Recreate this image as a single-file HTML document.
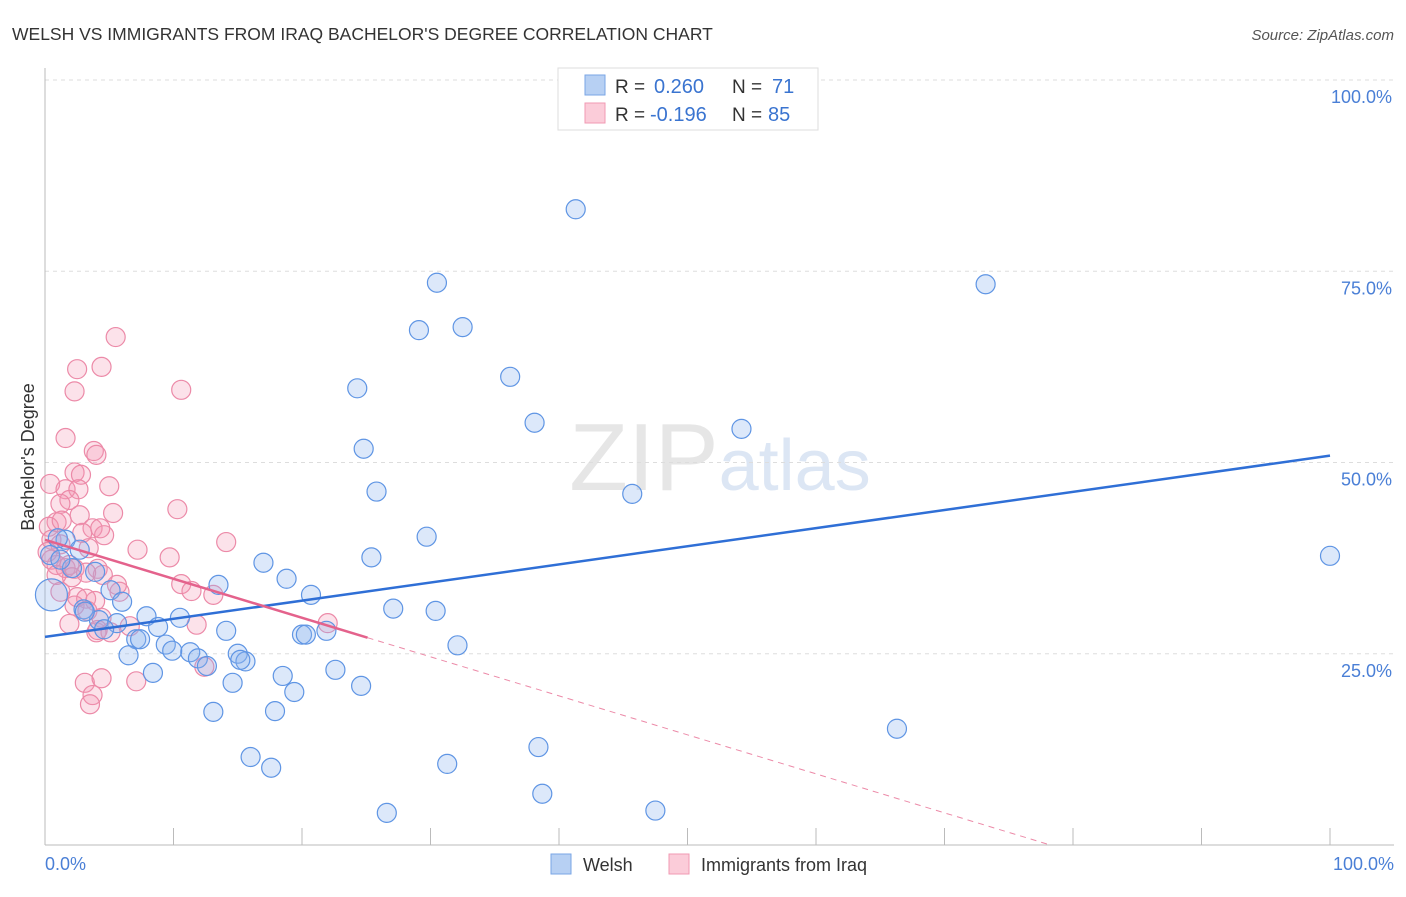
<!DOCTYPE html>
<html><head><meta charset="utf-8"><style>
body{margin:0;background:#fff;font-family:"Liberation Sans",sans-serif;}
svg text{font-family:"Liberation Sans",sans-serif;}
</style></head><body>
<svg id="chart" width="1406" height="892" xmlns="http://www.w3.org/2000/svg">
<text x="12" y="40" font-size="17.5" fill="#333">WELSH VS IMMIGRANTS FROM IRAQ BACHELOR'S DEGREE CORRELATION CHART</text>
<text x="1394" y="40" font-size="15" fill="#555" text-anchor="end" font-style="italic">Source: ZipAtlas.com</text>
<text x="720" y="490" font-size="96" fill="#e6e6e6" text-anchor="middle" font-family="Liberation Serif">ZIP<tspan fill="#dce6f4" font-family="Liberation Sans" font-size="72">atlas</tspan></text>
<g id="grid"></g>
<line x1="45" y1="68" x2="45" y2="845" stroke="#bbb"/>
<line x1="45" y1="845" x2="1394" y2="845" stroke="#bbb"/>
<text transform="translate(34,457) rotate(-90)" font-size="18" fill="#333" text-anchor="middle">Bachelor's Degree</text>
<text x="45" y="870" font-size="18" fill="#4a7fd6">0.0%</text>
<text x="1394" y="870" font-size="18" fill="#4a7fd6" text-anchor="end">100.0%</text>
<g id="pts"></g>
<g id="lines"></g>
<g>
<rect x="558" y="68" width="260" height="62" fill="#fff" stroke="#ddd"/>
<rect x="585" y="75" width="20" height="20" fill="#b7d0f3" stroke="#7aa6e6"/>
<rect x="585" y="103" width="20" height="20" fill="#fbccd9" stroke="#f09ab3"/>
<text x="615" y="93" font-size="19" fill="#333">R =</text>
<text x="654" y="93" font-size="20" fill="#3a74d0">0.260</text>
<text x="732" y="93" font-size="19" fill="#333">N =</text>
<text x="772" y="93" font-size="20" fill="#3a74d0">71</text>
<text x="615" y="121" font-size="19" fill="#333">R =</text>
<text x="650" y="121" font-size="20" fill="#3a74d0">-0.196</text>
<text x="732" y="121" font-size="19" fill="#333">N =</text>
<text x="768" y="121" font-size="20" fill="#3a74d0">85</text>
</g>
<g>
<rect x="551" y="854" width="20" height="20" fill="#b7d0f3" stroke="#7aa6e6"/>
<text x="583" y="871" font-size="18" fill="#333">Welsh</text>
<rect x="669" y="854" width="20" height="20" fill="#fbccd9" stroke="#f09ab3"/>
<text x="701" y="871" font-size="18" fill="#333">Immigrants from Iraq</text>
</g>
</svg>
<script>
const yTicks=[25,50,75,100];
const yTickLabels=["25.0%","50.0%","75.0%","100.0%"];
const xTicks=[0,10,20,30,40,50,60,70,80,90,100];
const blueX=[41.3,30.5,73.2,29.1,32.5,36.2,24.3,38.1,54.2,24.8,25.8,45.7,29.7,25.4,100,17.0,18.8,13.5,20.7,5.1,6.0,27.1,30.4,7.9,10.5,4.2,5.6,4.6,8.8,14.1,20.0,20.3,21.9,7.1,7.4,9.4,11.3,9.9,6.5,11.9,15.0,15.6,32.1,15.2,12.6,22.6,8.4,18.5,14.6,19.4,24.6,13.1,17.9,66.3,38.4,16.0,17.6,31.3,38.7,26.6,47.5,0.5,1.6,1.0,2.1,3.9,3.0,3.1,0.4,1.2,2.7];
const blueY=[83.1,73.5,73.3,67.3,67.7,61.2,59.7,55.2,54.4,51.8,46.2,45.9,40.3,37.6,37.8,36.9,34.8,34.0,32.7,33.3,31.8,30.9,30.6,29.9,29.7,29.4,29.0,28.2,28.5,28.0,27.5,27.5,28.0,26.9,26.9,26.2,25.2,25.4,24.8,24.4,25.0,24.0,26.1,24.2,23.4,22.9,22.5,22.1,21.2,20.0,20.8,17.4,17.5,15.2,12.8,11.5,10.1,10.6,6.7,4.2,4.5,32.7,39.9,40.1,36.2,35.7,30.8,30.5,37.9,37.3,38.6];
const pinkX=[5.5,2.5,4.4,10.6,2.3,1.6,3.8,4.0,2.3,2.8,0.4,5.0,1.6,2.6,1.9,1.2,10.3,5.3,2.7,0.9,0.3,3.7,2.9,4.6,14.1,3.4,7.2,9.7,0.5,1.2,0.5,0.9,1.6,1.9,2.3,4.1,4.5,10.6,2.1,3.2,5.8,11.4,13.1,2.5,3.2,1.2,3.9,5.6,2.3,3.3,6.6,4.4,4.0,4.1,1.9,11.8,5.1,22.0,7.1,3.1,4.4,3.7,3.5,12.4,0.9,0.2,1.3,4.3];
const pinkY=[66.4,62.2,62.5,59.5,59.3,53.2,51.5,51.0,48.7,48.4,47.2,46.9,46.5,46.5,45.1,44.6,43.9,43.4,43.1,42.2,41.6,41.4,40.8,40.5,39.6,38.8,38.6,37.6,39.9,39.3,37.3,36.6,36.2,36.6,36.1,36.1,35.3,34.1,35.0,35.6,33.1,33.2,32.7,32.4,32.2,33.1,31.9,34.0,31.3,30.6,28.6,29.7,27.8,28.1,28.9,28.8,27.8,29.0,21.4,21.2,21.8,19.6,18.4,23.3,35.3,38.3,42.4,41.4];
const blueLine=[27.2,0.237];
const pinkLine=[39.9,-0.51];
const pinkSolidEnd=25.1;

const X=v=>45+v*12.85, Y=v=>845-v*7.65;
const NS="http://www.w3.org/2000/svg";
function mk(tag,attrs,parent){const e=document.createElementNS(NS,tag);for(const k in attrs)e.setAttribute(k,attrs[k]);parent.appendChild(e);return e;}
const grid=document.getElementById('grid');
yTicks.forEach((t,i)=>{
 const l=mk('line',{x1:45,x2:1394,y1:Y(t),y2:Y(t),stroke:'#ddd','stroke-dasharray':'4,4'},grid);
 
 
 const tx=mk('text',{x:1392,y:Y(t)+23,'font-size':18,fill:'#4a7fd6','text-anchor':'end'},grid);
 tx.textContent=yTickLabels[i];
 
 
});
xTicks.forEach(t=>{
 const l=mk('line',{x1:X(t),x2:X(t),y1:828,y2:845,stroke:'#bbb'},grid);
 
 
});
const pts=document.getElementById('pts');
pinkX.forEach((x,i)=>{
 const c=mk('circle',{cx:X(x),cy:Y(pinkY[i]),r:9.5,fill:'rgba(244,150,180,0.28)',stroke:'#ec8aa8','stroke-width':1.2},pts);
 
 
});
blueX.forEach((x,i)=>{
 const c=mk('circle',{cx:X(x),cy:Y(blueY[i]),r:i==61?16:9.5,fill:'rgba(140,180,240,0.3)',stroke:'#5f95e4','stroke-width':1.2},pts);
 
 
});
const lines=document.getElementById('lines');
const bl=mk('line',{x1:X(0),y1:Y(blueLine[0]),x2:X(100),y2:Y(blueLine[0]+blueLine[1]*100),stroke:'#2f6fd6','stroke-width':2.5},lines);


const pl=mk('line',{x1:X(0),y1:Y(pinkLine[0]),x2:X(pinkSolidEnd),y2:Y(pinkLine[0]+pinkLine[1]*pinkSolidEnd),stroke:'#e4628c','stroke-width':2.5},lines);


const zeroX=-pinkLine[0]/pinkLine[1];
const pd=mk('line',{x1:X(pinkSolidEnd),y1:Y(pinkLine[0]+pinkLine[1]*pinkSolidEnd),x2:X(zeroX),y2:Y(0),stroke:'#ec8aa8','stroke-width':1,'stroke-dasharray':'6,5'},lines);


</script>
</body></html>
